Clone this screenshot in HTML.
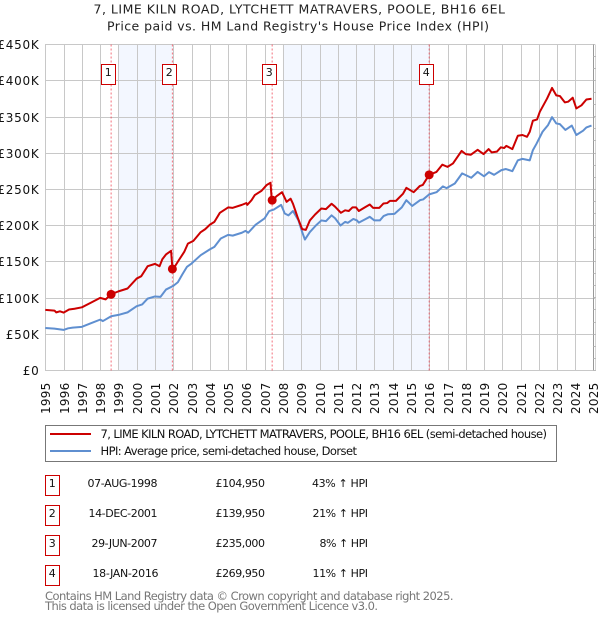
<!DOCTYPE html>
<html lang="en">
<head>
<meta charset="utf-8">
<title>7, LIME KILN ROAD price paid vs HPI</title>
<style>
html,body{margin:0;padding:0;background:#fff;}
svg{display:block;font-family:"DejaVu Sans","Liberation Sans",sans-serif;}
</style>
</head>
<body>
<svg id="chart" xmlns="http://www.w3.org/2000/svg" width="600" height="620" viewBox="0 0 600 620">
  <g fill="#222" font-size="12.5">
    <text x="93.5" y="13.5" textLength="411.5">7, LIME KILN ROAD, LYTCHETT MATRAVERS, POOLE, BH16 6EL</text>
    <text x="107" y="30.5" textLength="382">Price paid vs. HM Land Registry's House Price Index (HPI)</text>
  </g>
  <g id="bands"></g>
  <g id="grid"></g>
  <g id="yaxis"></g>
  <g id="xaxis"></g>
  <g id="vlines"></g>
  <g id="series"></g>
  <g id="sales"></g>

  <g>
    <rect x="45.5" y="425.5" width="511" height="36" fill="#fff" stroke="#777" stroke-width="1"/>
    <line x1="50" x2="91" y1="434" y2="434" stroke="#cc0000" stroke-width="2"/>
    <text x="100.5" y="438" font-size="11.5" fill="#111" textLength="446.5">7, LIME KILN ROAD, LYTCHETT MATRAVERS, POOLE, BH16 6EL (semi-detached house)</text>
    <line x1="50" x2="91" y1="451" y2="451" stroke="#5f8fd0" stroke-width="2"/>
    <text x="100.5" y="455" font-size="11.5" fill="#111" textLength="256.5">HPI: Average price, semi-detached house, Dorset</text>
  </g>

  <g font-size="11" fill="#111">
    <g>
      <rect x="45.5" y="475.5" width="14" height="20" fill="#fff" stroke="#cc0000"/>
      <text x="52.3" y="487" text-anchor="middle">1</text>
      <text x="87.5" y="487" textLength="70">07-AUG-1998</text>
      <text x="215.5" y="487" textLength="49.5">£104,950</text>
      <text x="312" y="487" textLength="56">43% ↑ HPI</text>
    </g>
    <g>
      <rect x="45.5" y="505.5" width="14" height="20" fill="#fff" stroke="#cc0000"/>
      <text x="52.3" y="517" text-anchor="middle">2</text>
      <text x="88.5" y="517" textLength="69">14-DEC-2001</text>
      <text x="215.5" y="517" textLength="49.5">£139,950</text>
      <text x="312.5" y="517" textLength="55.5">21% ↑ HPI</text>
    </g>
    <g>
      <rect x="45.5" y="535.5" width="14" height="20" fill="#fff" stroke="#cc0000"/>
      <text x="52.3" y="547" text-anchor="middle">3</text>
      <text x="91.5" y="547" textLength="66">29-JUN-2007</text>
      <text x="215.5" y="547" textLength="49.5">£235,000</text>
      <text x="319.5" y="547" textLength="48.5">8% ↑ HPI</text>
    </g>
    <g>
      <rect x="45.5" y="565.5" width="14" height="20" fill="#fff" stroke="#cc0000"/>
      <text x="52.3" y="577" text-anchor="middle">4</text>
      <text x="92.5" y="577" textLength="66">18-JAN-2016</text>
      <text x="215.5" y="577" textLength="49.5">£269,950</text>
      <text x="312.5" y="577" textLength="55.5">11% ↑ HPI</text>
    </g>
  </g>

  <g font-size="11.5" fill="#777">
    <text x="45" y="600" textLength="408.5">Contains HM Land Registry data © Crown copyright and database right 2025.</text>
    <text x="45" y="610" textLength="333">This data is licensed under the Open Government Licence v3.0.</text>
  </g>
</svg>
<script>
const yearTicks = [1995,1996,1997,1998,1999,2000,2001,2002,2003,2004,2005,2006,2007,2008,2009,2010,2011,2012,2013,2014,2015,2016,2017,2018,2019,2020,2021,2022,2023,2024,2025];
const priceTicks = [0,50,100,150,200,250,300,350,400,450];
const priceTickLabels = ["£0","£50K","£100K","£150K","£200K","£250K","£300K","£350K","£400K","£450K"];

const hpiDates = [1995,1995.5,1995.75,1996,1996.25,1996.5,1997,1997.5,1998,1998.15,1998.6,1999,1999.5,2000,2000.3,2000.6,2001,2001.3,2001.6,2002,2002.25,2002.5,2002.75,2003,2003.5,2004,2004.25,2004.6,2005,2005.25,2005.75,2005.95,2006.1,2006.5,2007,2007.25,2007.5,2007.9,2008.1,2008.3,2008.55,2008.85,2009.05,2009.2,2009.47,2009.8,2010.1,2010.35,2010.66,2010.85,2011.15,2011.4,2011.55,2011.85,2012.05,2012.15,2012.45,2012.75,2013,2013.3,2013.5,2013.75,2014.1,2014.5,2014.75,2015.07,2015.5,2015.67,2016,2016.4,2016.75,2016.95,2017.4,2017.8,2018.3,2018.65,2019,2019.27,2019.55,2019.95,2020.2,2020.55,2020.85,2021.1,2021.5,2021.67,2021.87,2022.2,2022.5,2022.72,2022.95,2023.15,2023.45,2023.8,2024.05,2024.42,2024.6,2024.88];
const hpiValues = [58.5,57.6,56.7,55.8,58,59,60,65,70,68,74.6,76.5,80,88.5,91,99,102,101.4,111.5,116.6,121.6,132.7,143,147.5,159,167,170.5,182,187,186,190,192.6,190,201,210,220,222,228.5,216.6,214,220,207,191,180.6,191,200,207,206,214,210,200,205,203.7,209,207,204,208,212,207,207,213,215.6,216,225,235,227,235,236,243,246,254,251.6,258,272,266,274,268,273.7,270,276.5,278,275,290,292,290,304,313,329.5,338.7,349.7,341,340,332,338,325,331,335.5,338];

const paidDates = [1995,1995.5,1995.6,1995.8,1996,1996.3,1996.6,1997,1997.5,1998,1998.3,1998.6,1999,1999.5,2000,2000.25,2000.6,2001,2001.25,2001.4,2001.6,2001.88,2001.95,2002.0,2002.3,2002.6,2002.8,2003.1,2003.5,2003.75,2004,2004.25,2004.55,2005,2005.25,2005.75,2006,2006.05,2006.28,2006.46,2006.83,2007.1,2007.32,2007.39,2007.65,2007.95,2008.2,2008.42,2008.55,2008.7,2008.82,2009.05,2009.25,2009.47,2009.75,2010.1,2010.35,2010.66,2010.85,2011.17,2011.4,2011.6,2011.8,2012,2012.15,2012.48,2012.75,2012.93,2013.27,2013.5,2013.7,2013.85,2014.18,2014.57,2014.75,2015.15,2015.48,2015.65,2016,2016.4,2016.72,2017,2017.3,2017.77,2018,2018.27,2018.65,2018.97,2019.25,2019.42,2019.7,2019.92,2020.1,2020.22,2020.55,2020.85,2021.1,2021.35,2021.5,2021.67,2021.9,2022.05,2022.45,2022.72,2022.95,2023.15,2023.42,2023.6,2023.85,2024.05,2024.33,2024.6,2024.88];
const paidValues = [83.4,82.5,80,81.5,79.7,84,85,87,93.5,100,98,104.95,109,113,126.7,130,143.8,147,143.8,153.4,160,165,140.5,139.95,152,163.6,175,178.8,190.8,195,201,205,217.5,225,224.4,228.5,231,228.5,235,242,248,255.7,259,234,240.5,246,232.7,237,230,219,210,195,194,207,215,223.5,222.6,230,226,217.5,221,220,225,225,220,225,229,224.4,224.4,230.4,231,234,234,244,252,246,254.4,256,270,274,284,281,285.7,303,298.6,297.7,304.6,298.6,305.5,301,302,308,307,310,305.5,324,325,322.5,329.5,344.7,346.5,357,375.5,390,379.7,378.8,370,371,376.5,361.7,366,374,375];

const saleNumbers = ["1","2","3","4"];
const saleDates = [1998.6,2001.95,2007.41,2016.0];
const saleValues = [104.95,139.95,235,269.95];
const shadeStarts = [1999,2008];
const shadeEnds = [2001.95,2016.0];

const SVGNS = "http://www.w3.org/2000/svg";
const PLOT_TOP = 44.5, PLOT_BOTTOM = 370.5, PLOT_RIGHT = 595;

function xScale(year) {
  const whole = Math.floor(year);
  const days = (Date.UTC(whole, 0, 1) - Date.UTC(1995, 0, 1)) / 864e5;
  return 45.3 + days * 0.05005 + (year - whole) * 18.28;
}
function yScale(value) {
  return 370.3 - value * 0.7240;
}
function make(tag, attrs, parent) {
  const el = document.createElementNS(SVGNS, tag);
  for (const k in attrs) el.setAttribute(k, attrs[k]);
  parent.appendChild(el);
  return el;
}

const bandsG = document.getElementById("bands");
shadeStarts.forEach(function (s, i) {
  const x1 = xScale(s), x2 = xScale(shadeEnds[i]);
  const r = make("rect", {x: x1, y: PLOT_TOP, width: x2 - x1, height: PLOT_BOTTOM - PLOT_TOP, fill: "#f3f7ff"}, bandsG);
  
  
});

const gridG = document.getElementById("grid");
const yG = document.getElementById("yaxis");
priceTicks.forEach(function (v, i) {
  const py = Math.floor(yScale(v) + 0.2) + 0.5;
  const l = make("line", {x1: 45, x2: PLOT_RIGHT, y1: py, y2: py, stroke: "#c8c8c8", "stroke-width": 1}, gridG);
  
  
  const t = make("text", {x: 39.5, y: py + 4.5, "text-anchor": "end", "font-size": 12, "letter-spacing": 0.75, fill: "#111"}, yG);
  
  
  t.textContent = priceTickLabels[i];
});

const xG = document.getElementById("xaxis");
yearTicks.forEach(function (yr) {
  const px = Math.round(xScale(yr)) + 0.5;
  const lineX = yr === 2025 ? 593.5 : px;
  const l = make("line", {x1: lineX, x2: lineX, y1: PLOT_TOP, y2: PLOT_BOTTOM, stroke: yr === 2025 ? "#999" : "#c8c8c8", "stroke-width": 1}, gridG);
  
  
  const t = make("text", {transform: "translate(" + (lineX + 4.4) + ",382.5) rotate(-90)", "text-anchor": "end", "font-size": 12, "letter-spacing": 0.25, fill: "#111"}, xG);
  
  
  t.textContent = String(yr);
});

const edge = make("line", {x1: 595.5, x2: 595.5, y1: PLOT_TOP, y2: PLOT_BOTTOM, stroke: "#d4d4d4", "stroke-width": 1}, gridG);


for (let ty = PLOT_TOP + 12; ty < PLOT_BOTTOM; ty += 12.07) {
  const tk = make("line", {x1: 593.5, x2: 596, y1: Math.floor(ty) + 0.5, y2: Math.floor(ty) + 0.5, stroke: "#bbb", "stroke-width": 1}, gridG);
  
  
}

const vG = document.getElementById("vlines");
saleDates.forEach(function (d) {
  const px = xScale(d);
  const l = make("line", {x1: px, x2: px, y1: PLOT_TOP, y2: PLOT_BOTTOM, stroke: "#ee3344", "stroke-width": 1, "stroke-dasharray": "2 2", opacity: 0.7}, vG);
  
  
});

function pathFrom(dates, values) {
  return dates.map(function (d, i) {
    return (i ? "L" : "M") + xScale(d).toFixed(2) + " " + yScale(values[i]).toFixed(2);
  }).join("");
}
const sG = document.getElementById("series");
const hpiLine = make("path", {d: pathFrom(hpiDates, hpiValues), fill: "none", stroke: "#5f8fd0", "stroke-width": 2, "stroke-linejoin": "round"}, sG);


const paidLine = make("path", {d: pathFrom(paidDates, paidValues), fill: "none", stroke: "#cc0000", "stroke-width": 2, "stroke-linejoin": "round"}, sG);



const mG = document.getElementById("sales");
saleDates.forEach(function (d, i) {
  const px = xScale(d);
  const c = make("circle", {cx: px, cy: yScale(saleValues[i]), r: 4.5, fill: "#cc0000"}, mG);
  
  
  const b = make("rect", {x: Math.round(px - 10.3) + 0.5, y: 64.5, width: 14, height: 20, fill: "#fff", stroke: "#cc0000", "stroke-width": 1}, mG);
  
  
  const t = make("text", {x: Math.round(px - 10.3) + 7.3, y: 76, "text-anchor": "middle", "font-size": 11, fill: "#111"}, mG);
  
  
  t.textContent = saleNumbers[i];
});
</script>
</body>
</html>
